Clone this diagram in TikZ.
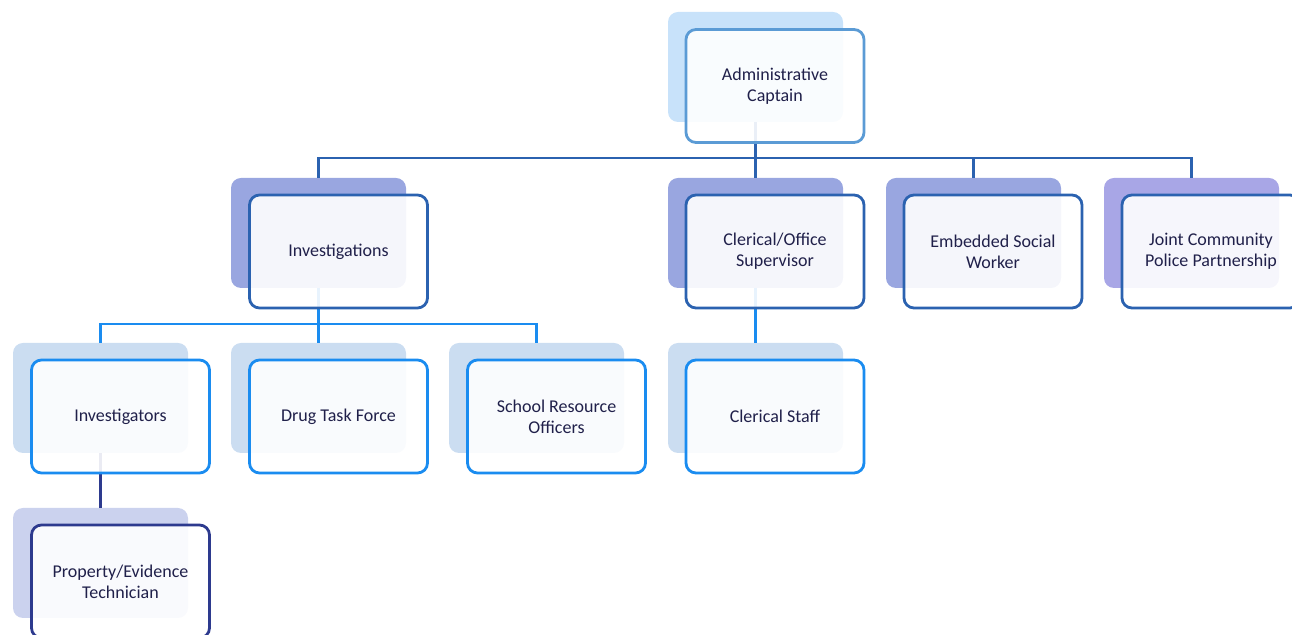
\documentclass[tikz,border=0pt]{standalone}
\usepackage{fontspec}
\setmainfont{Carlito}
\definecolor{txt}{HTML}{20204A}
\definecolor{topback}{HTML}{C8E2FA}
\definecolor{topline}{HTML}{5B9BD5}
\definecolor{midback}{HTML}{99A6E0}
\definecolor{jointback}{HTML}{A8A6E6}
\definecolor{midline}{HTML}{2B62B0}
\definecolor{lowback}{HTML}{CBDDF1}
\definecolor{lowline}{HTML}{1A8CF0}
\definecolor{propback}{HTML}{CBD2EE}
\definecolor{propline}{HTML}{2D3A8E}
\begin{document}
\begin{tikzpicture}[x=0.5pt,y=-0.5pt,
  back/.style={rounded corners=5pt, minimum width=87.5pt, minimum height=55pt,
    inner sep=0pt, outer sep=0pt},
  front/.style={rounded corners=5pt, minimum width=89pt, minimum height=56.5pt,
    inner sep=0pt, outer sep=0pt, draw, line width=1.4pt, fill=white,
    fill opacity=0.9, text opacity=1, align=center, text=txt,
    font=\fontsize{9}{10.5}\selectfont},
  conn/.style={line width=1.25pt}]
\useasboundingbox (0,0) rectangle (1292,635);

% back plates
\node[back, fill=topback]   (adminB)  at (755.5,67) {};
\node[back, fill=midback]   (invB)    at (318.5,233) {};
\node[back, fill=midback]   (clerB)   at (755.5,233) {};
\node[back, fill=midback]   (embB)    at (973.5,233) {};
\node[back, fill=jointback] (jointB)  at (1191.5,233) {};
\node[back, fill=lowback]   (ivtB)    at (100.5,398) {};
\node[back, fill=lowback]   (drugB)   at (318.5,398) {};
\node[back, fill=lowback]   (schoolB) at (536.5,398) {};
\node[back, fill=lowback]   (staffB)  at (755.5,398) {};
\node[back, fill=propback]  (propB)   at (100.5,563) {};

% connectors
\coordinate (topbar) at (755.5,158);
\coordinate (invbar) at (318.5,324);
\draw[conn, midline] (adminB.south) -- (clerB.north);
\draw[conn, midline] (invB.north) |- (topbar) -| (jointB.north);
\draw[conn, midline] (embB.north) -- (embB.north |- topbar);
\draw[conn, lowline] (invB.south) -- (drugB.north);
\draw[conn, lowline] (ivtB.north) |- (invbar) -| (schoolB.north);
\draw[conn, lowline] (clerB.south) -- (staffB.north);
\draw[conn, propline] (ivtB.south) -- (propB.north);

% front cards
\node[front, draw=topline]  (admin)  at (775,86)     {Administrative\\Captain};
\node[front, draw=midline]  (inv)    at (338.5,251.5) {Investigations};
\node[front, draw=midline]  (cler)   at (775,251.5)   {Clerical/Office\\Supervisor};
\node[front, draw=midline]  (emb)    at (993,251.5)   {Embedded Social\\Worker};
\node[front, draw=midline]  (joint)  at (1211,251.5)  {Joint Community\\Police Partnership};
\node[front, draw=lowline]  (ivt)    at (120.5,416.5) {Investigators};
\node[front, draw=lowline]  (drug)   at (338.5,416.5) {Drug Task Force};
\node[front, draw=lowline]  (school) at (556.5,416.5) {School Resource\\Officers};
\node[front, draw=lowline]  (staff)  at (775,416.5)   {Clerical Staff};
\node[front, draw=propline] (prop)   at (120.5,581.5) {Property/Evidence\\Technician};
\end{tikzpicture}
\end{document}
